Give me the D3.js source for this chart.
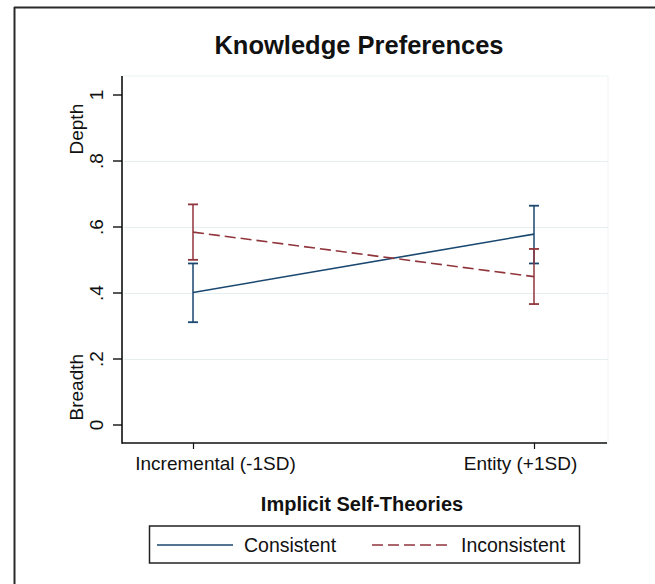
<!DOCTYPE html>
<html>
<head>
<meta charset="utf-8">
<script src="https://cdn.jsdelivr.net/npm/d3@7"></script>
<style>
  html, body { margin: 0; padding: 0; background: #fff; }
  svg { display: block; font-family: "Liberation Sans", Arial, Helvetica, sans-serif; }
</style>
</head>
<body>
<svg id="chart" width="655" height="584"></svg>
<script>
// ---- data ----
const categories = ["Incremental (-1SD)", "Entity (+1SD)"];
const seriesNames = ["Consistent", "Inconsistent"];
const consistentMean = [0.40, 0.577];
const consistentLow  = [0.31, 0.488];
const consistentHigh = [0.488, 0.663];
const inconsistentMean = [0.583, 0.448];
const inconsistentLow  = [0.499, 0.365];
const inconsistentHigh = [0.667, 0.532];
const yTickValues = [0, 0.2, 0.4, 0.6, 0.8, 1];
const yTickLabels = ["0", ".2", ".4", ".6", ".8", "1"];
const gridValues = [0.2, 0.4, 0.6, 0.8];
const sideLabels = ["Breadth", "Depth"];
const sideLabelValues = [0.113, 0.895];
const title = "Knowledge Preferences";
const xTitle = "Implicit Self-Theories";

// ---- layout ----
const svg = d3.select("#chart");
const plot = { left: 122, right: 608, top: 76, bottom: 443 };
const x = d3.scalePoint().domain(categories).range([193, 534]);
const y = d3.scaleLinear().domain([0, 1]).range([424.5, 94.5]);
const colors = { Consistent: "#1a476f", Inconsistent: "#90353b" };

// outer frame (top and left edges)
svg.append("line").attr("x1", 14).attr("x2", 655).attr("y1", 7.5).attr("y2", 7.5)
  .attr("stroke", "#2a2a2a").attr("stroke-width", 2);
svg.append("line").attr("x1", 14.5).attr("x2", 14.5).attr("y1", 7).attr("y2", 584)
  .attr("stroke", "#2a2a2a").attr("stroke-width", 2);

// title
svg.append("text").attr("x", 359).attr("y", 54).attr("text-anchor", "middle")
  .attr("font-size", 25.5).attr("font-weight", "bold").attr("fill", "#111").text(title);

// plot region outline
svg.append("rect").attr("x", plot.left).attr("y", plot.top)
  .attr("width", plot.right - plot.left).attr("height", plot.bottom - plot.top)
  .attr("fill", "none").attr("stroke", "#eef3f4").attr("stroke-width", 1);

// gridlines
svg.append("g").selectAll("line").data(gridValues).join("line")
  .attr("x1", plot.left + 2).attr("x2", plot.right)
  .attr("y1", d => Math.round(y(d)) + 0.5).attr("y2", d => Math.round(y(d)) + 0.5)
  .attr("stroke", "#e6eff0").attr("stroke-width", 1.2);

// y axis
const yAxis = d3.axisLeft(y).tickValues(yTickValues)
  .tickFormat((d, i) => yTickLabels[i]).tickSize(9).tickPadding(0);
const gy = svg.append("g").attr("transform", `translate(${plot.left},0)`).call(yAxis);
gy.select(".domain").remove();
gy.append("line").attr("x1", 0).attr("x2", 0).attr("y1", plot.top).attr("y2", plot.bottom + 0.75)
  .attr("stroke", "#111").attr("stroke-width", 1.6);
gy.selectAll(".tick line").attr("stroke", "#111").attr("stroke-width", 1.4);
gy.selectAll(".tick text")
  .attr("x", 0).attr("dy", 0).attr("font-size", 19).attr("fill", "#111")
  .attr("text-anchor", "middle")
  .attr("transform", "translate(-19,0) rotate(-90)");

// side labels (Breadth / Depth)
svg.append("g").selectAll("text").data(sideLabels).join("text")
  .attr("transform", (d, i) => `translate(83,${y(sideLabelValues[i])}) rotate(-90)`)
  .attr("text-anchor", "middle").attr("font-size", 19).attr("fill", "#111").text(d => d);

// x axis
const xAxis = d3.axisBottom(x).tickSize(6).tickPadding(0);
const gx = svg.append("g").attr("transform", `translate(0,${plot.bottom})`).call(xAxis);
gx.select(".domain").remove();
gx.append("line").attr("x1", plot.left).attr("x2", 607).attr("y1", 0).attr("y2", 0)
  .attr("stroke", "#111").attr("stroke-width", 1.6);
gx.selectAll(".tick line").attr("stroke", "#111").attr("stroke-width", 1.2);
const xLabelShift = [22, -14];
gx.selectAll(".tick text")
  .attr("y", 27).attr("dy", 0).attr("font-size", 19).attr("fill", "#111")
  .attr("dx", (d, i) => xLabelShift[i]);

// x title
svg.append("text").attr("x", 362).attr("y", 510.5).attr("text-anchor", "middle")
  .attr("font-size", 20).attr("font-weight", "bold").attr("fill", "#111").text(xTitle);

// series
const series = [
  { name: "Consistent", mean: consistentMean, low: consistentLow, high: consistentHigh, dash: null },
  { name: "Inconsistent", mean: inconsistentMean, low: inconsistentLow, high: inconsistentHigh, dash: "11,5" }
];
const line = d3.line().x(d => x(d.c)).y(d => y(d.v));
const capHalf = 5;

series.forEach(s => {
  const pts = categories.map((c, i) => ({ c, v: s.mean[i], lo: s.low[i], hi: s.high[i] }));
  const g = svg.append("g").attr("stroke", colors[s.name]).attr("fill", "none");
  // error bars
  const eb = g.append("g").selectAll("g").data(pts).join("g");
  eb.append("line").attr("x1", d => x(d.c)).attr("x2", d => x(d.c))
    .attr("y1", d => y(d.lo)).attr("y2", d => y(d.hi)).attr("stroke-width", 1.5);
  eb.append("line").attr("x1", d => x(d.c) - capHalf).attr("x2", d => x(d.c) + capHalf)
    .attr("y1", d => y(d.lo)).attr("y2", d => y(d.lo)).attr("stroke-width", 1.8);
  eb.append("line").attr("x1", d => x(d.c) - capHalf).attr("x2", d => x(d.c) + capHalf)
    .attr("y1", d => y(d.hi)).attr("y2", d => y(d.hi)).attr("stroke-width", 1.8);
  // mean line
  g.append("path").datum(pts).attr("d", line).attr("stroke-width", 1.6)
    .attr("stroke-dasharray", s.dash);
});

// legend
const legend = svg.append("g");
legend.append("rect").attr("x", 149.5).attr("y", 526).attr("width", 430).attr("height", 37)
  .attr("fill", "#fff").attr("stroke", "#222").attr("stroke-width", 1.5);
const legendItems = [
  { name: seriesNames[0], x1: 157, x2: 233, tx: 244, dash: null },
  { name: seriesNames[1], x1: 372, x2: 448, tx: 461, dash: "11,5" }
];
legendItems.forEach(it => {
  legend.append("line").attr("x1", it.x1).attr("x2", it.x2).attr("y1", 545).attr("y2", 545)
    .attr("stroke", colors[it.name]).attr("stroke-width", 1.6).attr("stroke-dasharray", it.dash);
  legend.append("text").attr("x", it.tx).attr("y", 552).attr("font-size", 19.5)
    .attr("fill", "#111").text(it.name);
});
</script>
</body>
</html>
